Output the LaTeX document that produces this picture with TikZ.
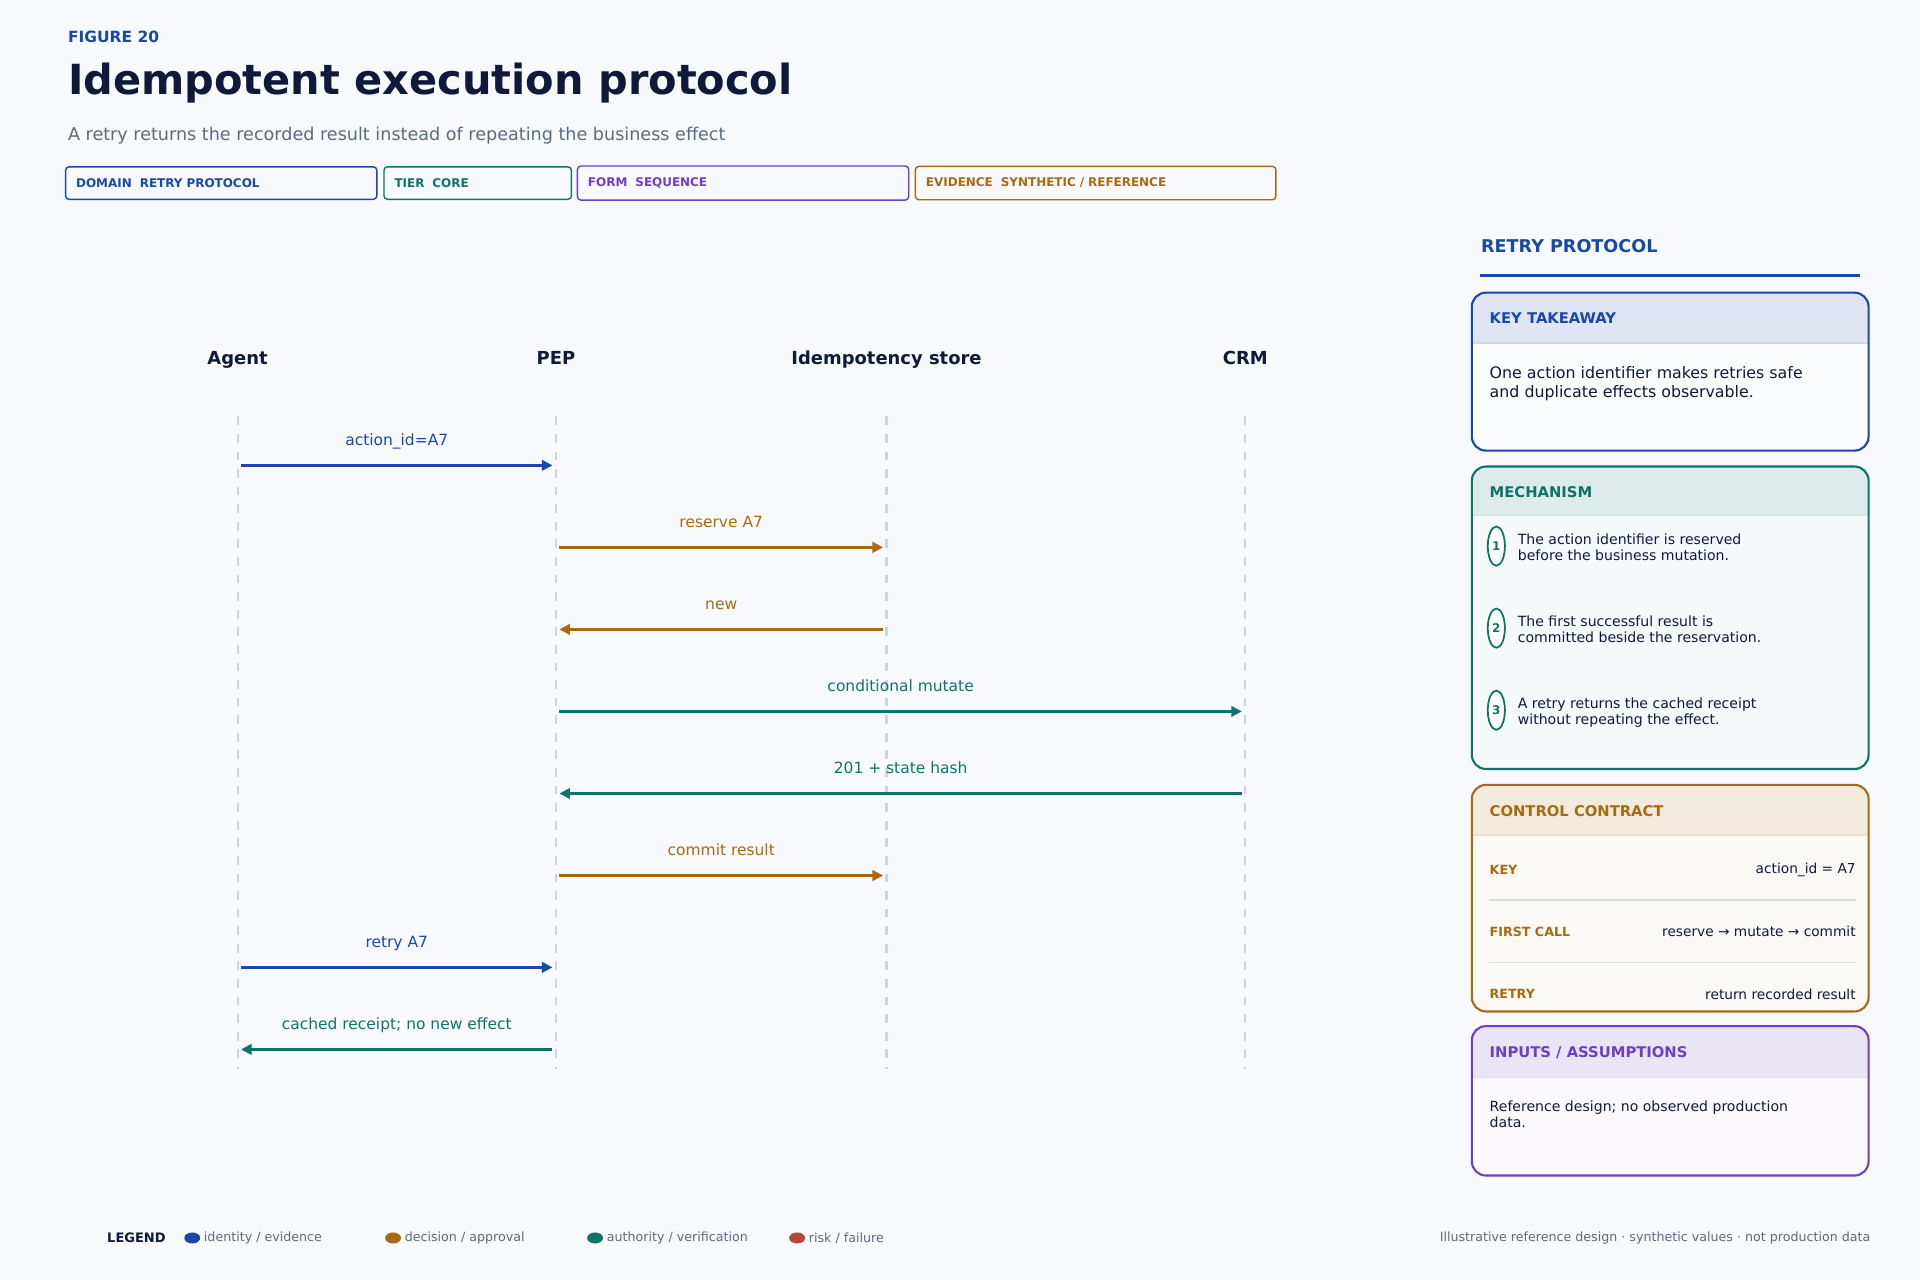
\documentclass[tikz,border=0pt]{standalone}
\usepackage{fontspec}
\setmainfont{DejaVu Sans}
\usetikzlibrary{arrows.meta,positioning,calc}
\definecolor{bg}{HTML}{F8F9FC}
\definecolor{ink}{HTML}{0F1A3A}
\definecolor{muted}{HTML}{5A6B80}
\definecolor{cblue}{HTML}{1849A9}
\definecolor{corange}{HTML}{A66A12}
\definecolor{cteal}{HTML}{0E7468}
\definecolor{cpurple}{HTML}{6B3FC8}
\definecolor{cred}{HTML}{B5473A}
\definecolor{life}{HTML}{CBD5E1}
\newcommand{\fs}[1]{\fontsize{#1pt}{1.15\dimexpr#1pt\relax}\selectfont}
\tikzset{
    msg/.style={line width=0.7pt, -{Triangle[length=3pt,width=3pt]}},
    msglabel/.style={font=\fs{4.4}, anchor=base},
    tag/.style={draw=#1, text=#1, rounded corners=1pt, line width=0.4pt, font=\bfseries\fs{3.4}, anchor=west, inner xsep=3pt, align=left, minimum height=8.7pt},
    head/.style={font=\bfseries\fs{5.1}, text=ink, anchor=base},
    cardtitle/.style={font=\bfseries\fs{4.2}, anchor=west, text=#1, inner sep=0pt},
    cardtext/.style={font=\fs{4.0}, anchor=north west, align=left, text=ink, inner sep=0pt},
}
\begin{document}
\begin{tikzpicture}[x=0.012245cm, y=-0.012245cm]
\useasboundingbox (0,0) rectangle (1568,1045);
\fill[bg] (0,0) rectangle (1568,1045);

% Header
\node[anchor=west, font=\bfseries\fs{4.4}, text=cblue, inner sep=0pt] (fig) at (55,30) {FIGURE 20};
\node[anchor=west, font=\bfseries\fs{11.8}, text=ink, inner sep=0pt] (title) at (55,68) {Idempotent execution protocol};
\node[anchor=west, font=\fs{5.0}, text=muted, inner sep=0pt] (sub) at (55,111) {A retry returns the recorded result instead of repeating the business effect};
\node[tag=cblue, text width=82.5pt] (tdomain) at (53,149.5) {DOMAIN\ \ RETRY PROTOCOL};
\node[tag=cteal, text width=47.3pt] (ttier) at (313,149.5) {TIER\ \ CORE};
\node[tag=cpurple, text width=88.2pt] (tform) at (471,149.5) {FORM\ \ SEQUENCE};
\node[tag=corange, text width=96.5pt] (tevid) at (747,149.5) {EVIDENCE\ \ SYNTHETIC / REFERENCE};

% Lifelines
\foreach \n/\x/\t in {agent/194/Agent, pep/454/PEP, store/724/Idempotency store, crm/1017/CRM}{
    \node[head] (\n) at (\x,298) {\t};
    \coordinate (\n-top) at (\x,340);
    \coordinate (\n-bot) at (\x,873);
    \draw[life, line width=0.6pt, dash pattern=on 2.5pt off 2.5pt] (\n-top) -- (\n-bot);
}

% Messages
\foreach \i/\a/\b/\y/\c/\t in {
    1/agent/pep/380/cblue/action\_id=A7,
    2/pep/store/447/corange/reserve A7,
    3/store/pep/514/corange/new,
    4/pep/crm/581/cteal/conditional mutate,
    5/crm/pep/648/cteal/201 + state hash,
    6/pep/store/715/corange/commit result,
    7/agent/pep/790/cblue/retry A7,
    8/pep/agent/857/cteal/cached receipt; no new effect}{
    \coordinate (m\i-s) at ($(\a-top |- 0,\y)$);
    \coordinate (m\i-e) at ($(\b-top |- 0,\y)$);
    \draw[msg, \c, shorten <=1pt, shorten >=1pt] (m\i-s) -- (m\i-e);
    \node[msglabel, text=\c] (l\i) at ($($(m\i-s)!0.5!(m\i-e)$)+(0,-16)$) {\t};
}

% Side panel
\node[anchor=west, font=\bfseries\fs{5.0}, text=cblue, inner sep=0pt] (panel) at (1209,201) {RETRY PROTOCOL};
\draw[cblue, line width=0.6pt] (1209,225) -- (1519,225);

% Key takeaway
\fill[bg!50!white, rounded corners=4pt] (1202,239) rectangle (1526,368);
\fill[cblue!14, rounded corners=4pt] (1202,239) rectangle (1526,280);
\fill[cblue!14] (1202,270) rectangle (1526,280);
\draw[cblue!20] (1202,280) -- (1526,280);
\draw[cblue, line width=0.6pt, rounded corners=4pt] (1202,239) rectangle (1526,368);
\node[cardtitle=cblue] (kt) at (1216,260) {KEY TAKEAWAY};
\node[cardtext, font=\fs{4.5}] (kttext) at (1216,299) {One action identifier makes retries safe\\and duplicate effects observable.};

% Mechanism
\fill[cteal!4, rounded corners=4pt] (1202,381) rectangle (1526,628);
\fill[cteal!14, rounded corners=4pt] (1202,381) rectangle (1526,421);
\fill[cteal!14] (1202,411) rectangle (1526,421);
\draw[cteal!20] (1202,421) -- (1526,421);
\draw[cteal, line width=0.6pt, rounded corners=4pt] (1202,381) rectangle (1526,628);
\node[cardtitle=cteal] (mech) at (1216,402) {MECHANISM};
\foreach \k/\y/\t in {1/446/The action identifier is reserved\\before the business mutation.,
    2/513/The first successful result is\\committed beside the reservation.,
    3/580/A retry returns the cached receipt\\without repeating the effect.}{
    \draw[cteal, line width=0.5pt, fill=white] (1222,\y) ellipse (7 and 16);
    \node[text=cteal, font=\bfseries\fs{3.4}] (n\k) at (1222,\y) {\k};
    \node[cardtext] (s\k) at (1239,\y-11) {\t};
}

% Control contract
\fill[corange!4, rounded corners=4pt] (1202,641) rectangle (1526,826);
\fill[corange!14, rounded corners=4pt] (1202,641) rectangle (1526,682);
\fill[corange!14] (1202,672) rectangle (1526,682);
\draw[corange!20] (1202,682) -- (1526,682);
\draw[corange, line width=0.6pt, rounded corners=4pt] (1202,641) rectangle (1526,826);
\node[cardtitle=corange] (cc) at (1216,662) {CONTROL CONTRACT};
\foreach \k/\y/\v in {KEY/710/action\_id = A7, FIRST CALL/761/reserve → mutate → commit, RETRY/812/return recorded result}{
    \node[anchor=west, font=\bfseries\fs{3.6}, text=corange, inner sep=0pt] at (1216,\y) {\k};
    \node[anchor=east, font=\fs{3.9}, text=ink, inner sep=0pt] at (1516,\y) {\v};
}
\foreach \y in {735,786}{ \draw[life!80, line width=0.4pt] (1216,\y) -- (1516,\y); }

% Inputs / assumptions
\fill[cpurple!3, rounded corners=4pt] (1202,838) rectangle (1526,960);
\fill[cpurple!14, rounded corners=4pt] (1202,838) rectangle (1526,880);
\fill[cpurple!14] (1202,870) rectangle (1526,880);
\draw[cpurple!20] (1202,880) -- (1526,880);
\draw[cpurple, line width=0.6pt, rounded corners=4pt] (1202,838) rectangle (1526,960);
\node[cardtitle=cpurple] (inp) at (1216,860) {INPUTS / ASSUMPTIONS};
\node[cardtext] (inptext) at (1216,898) {Reference design; no observed production\\data.};

% Legend
\node[anchor=west, font=\bfseries\fs{3.7}, text=ink, inner sep=0pt] (legend) at (87,1011) {LEGEND};
\foreach \x/\c/\t in {157/cblue/{identity / evidence}, 321/corange/{decision / approval}, 486/cteal/{authority / verification}, 651/cred/{risk / failure}}{
    \fill[\c] (\x,1011) ellipse (6.5 and 4.5);
    \node[anchor=west, font=\fs{3.6}, text=muted, inner sep=0pt] at (\x+9,1011) {\t};
}
\node[anchor=east, font=\fs{3.6}, text=muted, inner sep=0pt] (foot) at (1528,1011) {Illustrative reference design · synthetic values · not production data};
\end{tikzpicture}
\end{document}
